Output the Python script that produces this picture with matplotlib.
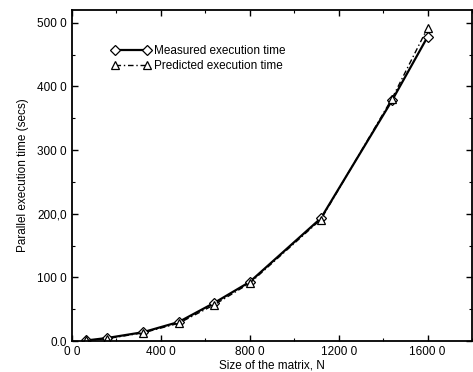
import matplotlib
matplotlib.use("Agg")
import matplotlib.pyplot as plt
from matplotlib.ticker import MultipleLocator, FixedLocator, FixedFormatter

sizes = [64, 160, 320, 480, 640, 800, 1120, 1440, 1600]
measured = [1.0, 5.0, 14.0, 30.0, 60.0, 93.0, 193.0, 378.0, 478.0]
predicted = [1.0, 4.0, 13.0, 28.0, 57.0, 91.0, 191.0, 381.0, 492.0]

xticks = [0, 400, 800, 1200, 1600]
xticklabels = ["0 0", "400 0", "800 0", "1200 0", "1600 0"]
yticks = [0, 100, 200, 300, 400, 500]
yticklabels = ["0.0", "100 0", "200,0", "300 0", "400 0", "500 0"]

plt.rcParams['font.family'] = ['Liberation Sans', 'DejaVu Sans']
fig = plt.figure(figsize=(4.73, 3.72), dpi=100)
ax = fig.add_axes([0.152, 0.083, 0.846, 0.890])

ax.plot(sizes, measured, color='black', linestyle='-', linewidth=1.6,
        marker='D', markersize=5, markerfacecolor='white', markeredgecolor='black',
        markeredgewidth=0.9, label='Measured execution time')
ax.plot(sizes, predicted, color='black', linestyle=(0, (4, 2, 1, 2)), linewidth=1.0,
        marker='^', markersize=6, markerfacecolor='white', markeredgecolor='black',
        markeredgewidth=0.9, label='Predicted execution time')

ax.set_xlim(0, 1800)
ax.set_ylim(0, 520)
ax.xaxis.set_major_locator(FixedLocator(xticks))
ax.xaxis.set_major_formatter(FixedFormatter(xticklabels))
ax.yaxis.set_major_locator(FixedLocator(yticks))
ax.yaxis.set_major_formatter(FixedFormatter(yticklabels))
ax.xaxis.set_minor_locator(MultipleLocator(200))
ax.yaxis.set_minor_locator(MultipleLocator(50))
ax.tick_params(which='both', direction='in', top=True, right=True, labelsize=8.5)
ax.tick_params(which='major', length=4, width=1)
ax.tick_params(which='minor', length=2, width=0.8)
for s in ax.spines.values():
    s.set_linewidth(1.3)

ax.set_xlabel("Size of the matrix, N", fontsize=8.5, labelpad=1)
ax.set_ylabel("Parallel execution time (secs)", fontsize=8.5, labelpad=6)

leg = ax.legend(loc='upper left', bbox_to_anchor=(0.1, 0.893), frameon=False,
                fontsize=8.5, handlelength=3.3, handletextpad=0.25, numpoints=2,
                labelspacing=0.2, borderaxespad=0, borderpad=0)

fig.savefig("out.png", dpi=100)
